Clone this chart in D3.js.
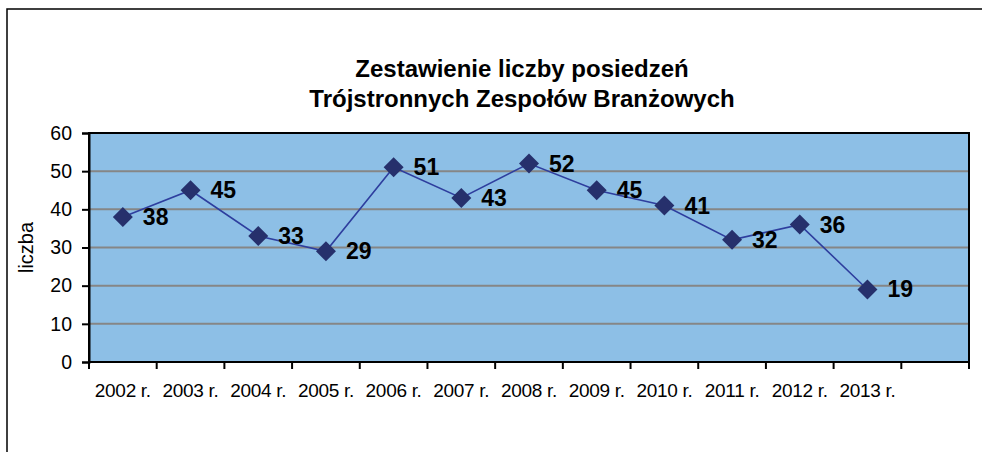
<!DOCTYPE html>
<html>
<head>
<meta charset="utf-8">
<script src="https://cdn.jsdelivr.net/npm/d3@7"></script>
<style>
  body { margin: 0; background: #fff; }
  svg { display: block; font-family: "Liberation Sans", Arial, sans-serif; }
</style>
</head>
<body>
<div id="chart"></div>
<script>
// data
const years = ["2002 r.", "2003 r.", "2004 r.", "2005 r.", "2006 r.", "2007 r.",
               "2008 r.", "2009 r.", "2010 r.", "2011 r.", "2012 r.", "2013 r."];
const meetings = [38, 45, 33, 29, 51, 43, 52, 45, 41, 32, 36, 19];
const yTicks = [0, 10, 20, 30, 40, 50, 60];
const titleLines = ["Zestawienie liczby posiedzeń", "Trójstronnych Zespołów Branżowych"];

const W = 982, H = 452;
const margin = { top: 133, right: 13, bottom: 90, left: 89 };
const width = W - margin.left - margin.right;
const height = H - margin.top - margin.bottom;

const svg = d3.select("#chart").append("svg")
    .attr("width", W)
    .attr("height", H);

// outer frame (runs past the right and bottom edges of the picture)
svg.append("rect")
    .attr("x", 7).attr("y", 9)
    .attr("width", 1000).attr("height", 470)
    .attr("fill", "none")
    .attr("stroke", "#000")
    .attr("stroke-width", 1.5);

// title
svg.append("text")
    .attr("text-anchor", "middle")
    .attr("font-weight", "bold")
    .attr("font-size", 24)
    .selectAll("tspan")
    .data(titleLines)
    .enter().append("tspan")
    .attr("x", 522)
    .attr("y", (d, i) => 77 + i * 30)
    .text(d => d);

const g = svg.append("g")
    .attr("transform", "translate(" + margin.left + "," + margin.top + ")");

// one empty slot after 2013, as in the original
const x = d3.scaleBand().domain(years.concat([""])).range([0, width]);
const y = d3.scaleLinear().domain([0, 60]).range([height, 0]);

g.append("rect")
    .attr("width", width)
    .attr("height", height)
    .attr("fill", "#8DBFE6");

// gridlines
g.selectAll(".grid")
    .data(yTicks.filter(d => d > 0 && d < 60))
    .enter().append("line")
    .attr("x1", 0).attr("x2", width)
    .attr("y1", d => y(d)).attr("y2", d => y(d))
    .attr("stroke", "#868686")
    .attr("stroke-width", 2);

g.append("rect")
    .attr("width", width)
    .attr("height", height)
    .attr("fill", "none")
    .attr("stroke", "#000")
    .attr("stroke-width", 2);

// y axis
const yAxis = g.append("g")
    .call(d3.axisLeft(y).tickValues(yTicks).tickSize(7).tickPadding(10));
yAxis.select(".domain").attr("stroke-width", 2);
yAxis.selectAll(".tick line").attr("stroke-width", 2);
yAxis.selectAll("text").attr("font-size", 19.5).attr("font-family", null).attr("fill", "#000");

// x axis: ticks on band edges
const edges = d3.range(x.domain().length + 1).map(i => i * x.step());
g.selectAll(".xtick")
    .data(edges)
    .enter().append("line")
    .attr("x1", d => d).attr("x2", d => d)
    .attr("y1", height).attr("y2", height + 7)
    .attr("stroke", "#000")
    .attr("stroke-width", 2);

g.selectAll(".xlabel")
    .data(years)
    .enter().append("text")
    .attr("x", d => x(d) + x.bandwidth() / 2)
    .attr("y", height + 35)
    .attr("text-anchor", "middle")
    .attr("font-size", 19)
    .attr("letter-spacing", -0.3)
    .text(d => d);

svg.append("text")
    .attr("transform", "translate(33," + (margin.top + height / 2) + ") rotate(-90)")
    .attr("text-anchor", "middle")
    .attr("font-size", 20)
    .text("liczba");

// line
const cx = (d, i) => x(years[i]) + x.bandwidth() / 2;
g.append("path")
    .datum(meetings)
    .attr("fill", "none")
    .attr("stroke", "#2E3E9E")
    .attr("stroke-width", 1.6)
    .attr("d", d3.line().x(cx).y(d => y(d)));

g.selectAll(".marker")
    .data(meetings)
    .enter().append("path")
    .attr("transform", (d, i) => "translate(" + cx(d, i) + "," + y(d) + ")")
    .attr("d", "M0,-10L10,0L0,10L-10,0Z")
    .attr("fill", "#26306C");

g.selectAll(".value")
    .data(meetings)
    .enter().append("text")
    .attr("x", (d, i) => cx(d, i) + 20)
    .attr("y", d => y(d) + 8)
    .attr("font-size", 23)
    .attr("font-weight", "bold")
    .text(d => d);
</script>
</body>
</html>
